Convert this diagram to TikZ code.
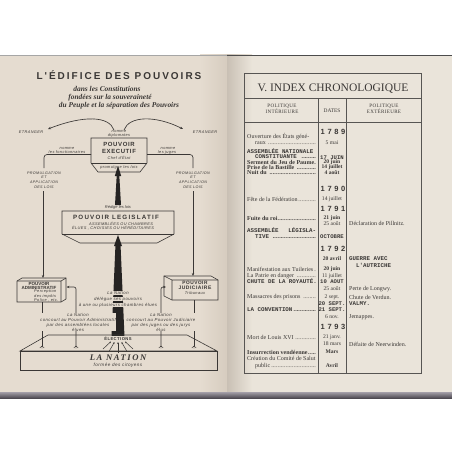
\documentclass[tikz,border=0pt]{standalone}
\usepackage{fontspec}
\setmainfont{Liberation Serif}
\newfontfamily\lsans{Liberation Sans}
\newfontfamily\lsansW[LetterSpace=20]{Liberation Sans}
\newfontfamily\lsansM[LetterSpace=10]{Liberation Sans}
\newfontfamily\lmono{Liberation Mono}
\newfontfamily\lserifW[LetterSpace=18]{Liberation Serif}
\newfontfamily\lserifH[LetterSpace=6]{Liberation Serif}
\newfontfamily\lsansD[LetterSpace=35]{Liberation Sans}
\usetikzlibrary{arrows.meta}
\definecolor{ink}{HTML}{3A3735}
\definecolor{spire}{HTML}{252322}
\definecolor{pageL}{HTML}{E5DCD0}
\definecolor{pageR}{HTML}{EAE4DA}
\definecolor{gutL}{HTML}{D6CCBF}
\definecolor{gutR}{HTML}{C9C0B4}
\definecolor{bandT}{HTML}{A49FA8}
\definecolor{bandB}{HTML}{4E4A52}
\newcommand{\myleader}[2]{\makebox[#1][l]{#2\leaders\hbox to 1.6pt{\hss.\hss}\hfill}}
\begin{document}
\begin{tikzpicture}[x=1pt,y=-1pt,
  lbl/.style={text=ink, inner sep=0pt, align=center},
  tiny/.style={lbl, font=\lsansM\itshape\fontsize{3.9}{4.4}\selectfont},
  tinyc/.style={lbl, font=\lsansM\itshape\fontsize{3.7}{4.6}\selectfont},
  boxtitle/.style={lbl, font=\lsansM\bfseries\fontsize{6}{7}\selectfont},
  smallbold/.style={lbl, font=\lsans\bfseries\fontsize{4.5}{5}\selectfont},
  colnote/.style={lbl, font=\lsansM\itshape\fontsize{4.3}{5}\selectfont},
  cover/.style={fill=pageL, inner sep=0.4pt},
  outl/.style={draw=ink, line width=0.6pt},
  conn/.style={draw=ink, line width=0.65pt},
  tip/.style={-{Stealth[length=3pt,width=2.4pt]}},
  rt/.style={text=ink, inner sep=0pt, anchor=west, font=\fontsize{6}{7}\selectfont},
  rtb/.style={rt, font=\bfseries\fontsize{6}{7}\selectfont},
  rtm/.style={rt, font=\lmono\bfseries\fontsize{5.8}{7}\selectfont},
  dt/.style={text=ink, inner sep=0pt, font=\fontsize{5.6}{7}\selectfont},
  dtb/.style={dt, font=\bfseries\fontsize{5.6}{7}\selectfont},
  dtm/.style={dt, font=\lmono\bfseries\fontsize{5.6}{7}\selectfont},
  year/.style={text=ink, inner sep=0pt, font=\lsansD\bfseries\fontsize{7.5}{8}\selectfont},
  hdr/.style={text=ink, inner sep=0pt, align=center, font=\lserifH\fontsize{5.1}{5.2}\selectfont}
]
\useasboundingbox (0,0) rectangle (452,452);
% ---------- pages ----------
\fill[white] (0,0) rectangle (452,452);
\fill[pageL] (0,55) rectangle (227,394);
\fill[pageR] (227,55) rectangle (452,395);
\shade[left color=pageL, right color=gutL] (200,55) rectangle (227,394);
\shade[left color=gutR, right color=pageR] (227,55) rectangle (252,395);
\shade[top color=bandT, bottom color=bandB] (0,392) rectangle (452,398);
\draw[black!35, line width=0.8pt] (0,55.4) -- (227,55.4);
\draw[black!70, line width=1pt] (227,55.5) -- (452,55.5);

% ---------- LEFT PAGE ----------
\node[lbl, font=\lsansW\bfseries\fontsize{10}{12}\selectfont] (title) at (119,75) {L'ÉDIFICE DES POUVOIRS};
\node[lbl, font=\bfseries\itshape\fontsize{7.4}{8}\selectfont] (s1) at (107,89) {dans les Constitutions};
\node[lbl, font=\bfseries\itshape\fontsize{7.4}{8}\selectfont] (s2) at (110,97.5) {fondées sur la souveraineté};
\node[lbl, font=\bfseries\itshape\fontsize{7.4}{8}\selectfont] (s3) at (119,106) {du Peuple et la séparation des Pouvoirs};

\node[tiny] (etrL) at (31,132) {ETRANGER};
\node[tiny] (etrR) at (205,132) {ETRANGER};
\node[tiny] (nomD) at (119,131) {nomme};
\node[tiny] (dipl) at (119,135) {diplomates};
\coordinate (cL0) at (114,130);
\coordinate (cL1) at (48,129);
\coordinate (cR0) at (124,130);
\coordinate (cR1) at (183,129);
\draw[conn,tip] (cL0) .. controls (109,116) and (84,115) .. (cL1);
\draw[conn,tip] (cR0) .. controls (129,116) and (155,115) .. (cR1);

% executive
\draw[outl] (91,138) -- (147,138) -- (147,163) -- (140,172) -- (98,172) -- (91,163) -- cycle;
\draw[ink, line width=0.4pt] (91,163) -- (147,163);
\node[boxtitle] (exec1) at (119,144.5) {POUVOIR};
\node[boxtitle] (exec2) at (119,151.5) {EXECUTIF};
\node[tiny] (chef) at (119,158) {Chef d'État};
\node[tiny] (prom) at (119,167.5) {promulgue les lois};
\coordinate (exL) at (91,154.5);
\coordinate (exR) at (147,154.5);
\draw[conn, rounded corners=3pt] (exL) -- (44,154.5) -- (44,168);
\draw[conn, rounded corners=3pt] (exR) -- (193,154.5) -- (193,168);
\node[tiny] (nomL1) at (67,148.5) {nomme};
\node[tiny] (nomL2) at (67,152.2) {les fonctionnaires};
\node[tiny] (nomR1) at (168,148.5) {nomme};
\node[tiny] (nomR2) at (167,152.2) {les juges};
\node[tinyc] (promL) at (44,180) {PROMULGATION\\ET\\APPLICATION\\DES LOIS};
\node[tinyc] (promR) at (193,180) {PROMULGATION\\ET\\APPLICATION\\DES LOIS};

% upper spire
\fill[spire] (116.8,174) -- (119.2,174) -- (121,205) -- (115,205) -- cycle;
\fill[spire] (118,166) -- (114.8,176) -- (121.2,176) -- cycle;
\node[tiny, font=\lsans\itshape\fontsize{4}{4.5}\selectfont] (redige) at (118,207) {Rédige les lois};

% legislative
\draw[outl] (62,211) -- (174,211) -- (174,234) -- (157,243) -- (80,243) -- (62,234) -- cycle;
\draw[ink, line width=0.4pt] (62,234) -- (174,234);
\node[boxtitle, font=\lsansW\bfseries\fontsize{6.2}{7}\selectfont] (leg1) at (116,217) {POUVOIR LEGISLATIF};
\node[tiny] (leg2) at (121,223.5) {ASSEMBLÉES OU CHAMBRES};
\node[tiny] (leg3) at (113,228.5) {ÉLUES , CHOISIES OU HÉRÉDITAIRES};

% lower spire
\fill[spire] (115.5,244) -- (120.5,244) -- (124.5,337) -- (111.5,337) -- cycle;
\fill[spire] (118,235) -- (114,246) -- (122,246) -- cycle;

% administrative box
\draw[outl, fill=pageL] (17,281) -- (22,278) -- (66,278) -- (66,299) -- (61,302) -- (17,302) -- cycle;
\draw[outl] (17,281) -- (61,281) -- (61,302) (61,281) -- (66,278);
\node[smallbold] (adm1) at (39,284) {POUVOIR};
\node[smallbold] (adm2) at (39,287.6) {ADMINISTRATIF};
\node[tiny, anchor=west, align=left] (adm3) at (34,296) {Perception\\des impôts\\Police , etc.};

% judiciary box
\draw[outl, fill=pageL] (164,276) -- (211,276) -- (218,280) -- (218,300) -- (172,300) -- (164,296) -- cycle;
\draw[outl] (164,276) -- (172,280) -- (218,280) (172,280) -- (172,300);
\node[smallbold, font=\lsansM\bfseries\fontsize{4.8}{5}\selectfont] (jud1) at (195,283) {POUVOIR};
\node[smallbold, font=\lsansM\bfseries\fontsize{5}{5}\selectfont] (jud2) at (195,288) {JUDICIAIRE};
\node[tiny] (jud3) at (195,293.5) {Tribunaux};

% vertical lines from executive to boxes
\coordinate (vL0) at (43,191);
\coordinate (vR0) at (193,191);
\coordinate (admTop) at (43,278);
\coordinate (judTop) at (193,276);
\draw[conn,tip] (vL0) -- (admTop);
\draw[conn,tip] (vR0) -- (judTop);

% Nation slab
\draw[outl] (48,335) -- (187,335) -- (217,351) -- (20,351) -- cycle;
\draw[outl] (20,351) rectangle (217,370);
\node[lbl, font=\lserifW\bfseries\itshape\fontsize{8.6}{9}\selectfont] (nation) at (118,358) {LA NATION};
\node[lbl, font=\lsansM\itshape\fontsize{4.6}{5}\selectfont] (formee) at (118,365.5) {formée des citoyens};

% lines from boxes down to the nation
\coordinate (admBot) at (42,302);
\coordinate (admFoot) at (42,346);
\coordinate (judBot) at (194,300);
\coordinate (judFoot) at (194,346);
\draw[conn] (admBot) -- (admFoot);
\draw[conn] (judBot) -- (judFoot);
% lines from the nation up into the boxes
\coordinate (nL0) at (76,346);
\coordinate (nL1) at (66.5,287);
\coordinate (nR0) at (161,346);
\coordinate (nR1) at (166,287);
\draw[conn,tip,rounded corners=2pt] (nL0) -- (76,287) -- (nL1);
\draw[conn,tip,rounded corners=2pt] (nR0) -- (161,287) -- (nR1);
% small roots at the feet
\foreach \x/\y in {42/346, 76/346, 161/346, 194/346}{
  \draw[ink, line width=0.45pt] (\x,\y) -- ++(-2.2,2) (\x,\y) -- ++(2.2,2) (\x,\y) -- ++(0,2.6);
}

% texts around the lower spire
\node[colnote, cover] (dn1) at (118,293) {La Nation};
\node[colnote, cover] (dn2) at (118,299) {délègue ses pouvoirs};
\node[colnote, cover] (dn3) at (118,305) {à une ou plusieurs chambres élues};
\node[colnote, cover] (ln) at (78,322) {La Nation\\concourt au Pouvoir Administratif\\par des assemblées locales\\élues};
\node[colnote, cover] (rn) at (161,322) {La Nation\\concourt au Pouvoir Judiciaire\\par des juges ou des jurys\\élus};
\node[lbl, cover, font=\lsansM\bfseries\fontsize{4.2}{5}\selectfont] (elect) at (118,338.5) {ÉLECTIONS};
\foreach \a/\b/\c/\d in {103/349/111/341.5, 109/351.5/114.5/342, 118/352.5/118/342, 127/351.5/121.5/342, 133/349/125/341.5}{
  \draw[ink, line width=0.5pt, -{Stealth[length=2pt,width=1.6pt]}] (\a,\b) -- (\c,\d);
}

% ---------- RIGHT PAGE ----------
\draw[ink!85, line width=0.55pt] (244,73) rectangle (421,373);
\draw[ink!85, line width=0.5pt] (244,98) -- (421,98);
\draw[ink!85, line width=0.5pt] (244,122.5) -- (421,122.5);
\draw[ink!85, line width=0.5pt] (318,98) -- (318,373);
\draw[ink!85, line width=0.5pt] (346,98) -- (346,373);
\node[lbl, font=\fontsize{11.5}{12}\selectfont] (rtitle) at (333,88.5) {V. INDEX CHRONOLOGIQUE};
\node[hdr] (h1) at (282,109) {POLITIQUE\\INTÉRIEURE};
\node[hdr, font=\fontsize{5.4}{5.4}\selectfont] (h2) at (332,110.5) {DATES};
\node[hdr] (h3) at (384,109) {POLITIQUE\\EXTÉRIEURE};

% years
\node[year] (y89) at (333,132) {1789};
\node[year] (y90) at (333,189) {1790};
\node[year] (y91) at (333,209) {1791};
\node[year] (y92) at (333,249) {1792};
\node[year] (y93) at (333,327) {1793};

% left column
\node[rt] (a1) at (247,137) {Ouverture des États géné-};
\node[rt] (a2) at (255,143) {\myleader{61pt}{raux }};
\node[rtm] (a3) at (247,151) {ASSEMBLÉE NATIONALE};
\node[rtm] (a4) at (255,157) {\myleader{61pt}{CONSTITUANTE }};
\node[rtb] (a5) at (247,162.5) {\myleader{69pt}{Serment du Jeu de Paume}};
\node[rtb] (a6) at (247,167.5) {\myleader{69pt}{Prise de la Bastille }};
\node[rtb] (a7) at (247,172.5) {\myleader{69pt}{Nuit du }};
\node[rt] (a8) at (247,199) {\myleader{69pt}{Fête de la Fédération}};
\node[rtb] (a9) at (247,218) {\myleader{69pt}{Fuite du roi}};
\node[rtm] (a10) at (247,230) {\makebox[69pt][s]{ASSEMBLÉE\hfill LÉGISLA-}};
\node[rtm] (a11) at (255,237) {\myleader{61pt}{TIVE }};
\node[rt] (a12) at (247,269) {\myleader{69pt}{Manifestation aux Tuileries}};
\node[rt] (a13) at (247,276) {\myleader{69pt}{La Patrie en danger }};
\node[rtm] (a14) at (247,281.5) {CHUTE DE LA ROYAUTÉ.};
\node[rt] (a15) at (247,297) {\myleader{69pt}{Massacres des prisons }};
\node[rtm] (a16) at (247,310) {\myleader{69pt}{LA CONVENTION}};
\node[rt] (a17) at (247,337) {\myleader{69pt}{Mort de Louis XVI }};
\node[rtb] (a18) at (247,352) {\myleader{69pt}{Insurrection vendéenne}};
\node[rt] (a19) at (247,358.5) {Création du Comité de Salut};
\node[rt] (a20) at (255,366) {\myleader{61pt}{public}};

% dates column
\node[dt] (d1) at (332,143) {5 mai};
\node[dtm] (d2) at (332,157.5) {17 JUIN};
\node[dtb] (d3) at (332,162.5) {20 juin};
\node[dtb] (d4) at (332,167.5) {14 juillet};
\node[dtb] (d5) at (332,172.5) {4 août};
\node[dt] (d6) at (332,199) {14 juillet};
\node[dtb] (d7) at (332,218) {21 juin};
\node[dt] (d8) at (332,223.5) {25 août};
\node[dtm] (d9) at (332,237) {OCTOBRE};
\node[dtb] (d10) at (332,259) {20 avril};
\node[dtb] (d11) at (332,269) {20 juin};
\node[dt] (d12) at (332,276) {11 juillet};
\node[dtm] (d13) at (332,281.5) {10 AOUT};
\node[dt] (d14) at (332,289) {25 août};
\node[dt] (d15) at (332,297) {2 sept.};
\node[dtm] (d16) at (332,304) {20 SEPT.};
\node[dtm] (d17) at (332,310) {21 SEPT.};
\node[dt] (d18) at (332,317) {6 nov.};
\node[dt] (d19) at (332,337) {21 janv.};
\node[dt] (d20) at (332,344) {18 mars};
\node[dtb] (d21) at (332,352) {Mars};
\node[dtb] (d22) at (332,366) {Avril};

% right column
\node[rt] (e1) at (349,223.5) {Déclaration de Pillnitz.};
\node[rtm] (e2) at (349,259) {GUERRE AVEC};
\node[rtm] (e3) at (356,265) {L'AUTRICHE};
\node[rt] (e4) at (349,289) {Perte de Longwy.};
\node[rt] (e5) at (349,297) {Chute de Verdun.};
\node[rtm] (e6) at (349,304) {VALMY.};
\node[rt] (e7) at (349,317) {Jemappes.};
\node[rt] (e8) at (349,344) {Défaite de Neerwinden.};
\end{tikzpicture}
\end{document}
